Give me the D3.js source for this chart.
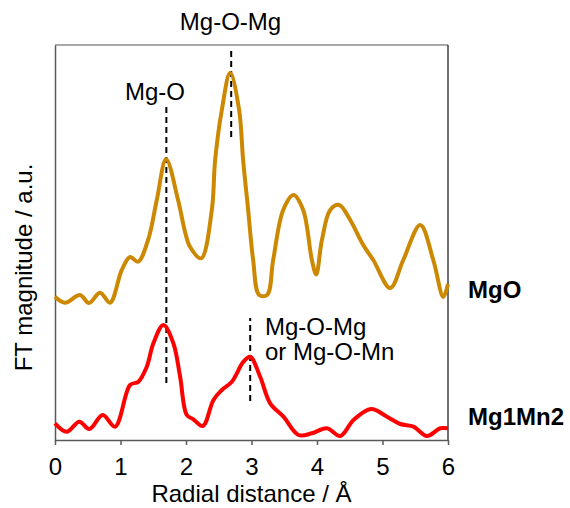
<!DOCTYPE html>
<meta charset="utf-8">
<html>
<style>
  body { margin: 0; background: #fff; }
  text { font-family: Arial, "Liberation Sans", sans-serif; }
  .line { fill: none; stroke-width: 4px; stroke-linejoin: round; }
  .axis path, .axis line { stroke: #595959; stroke-width: 1.5px; }
  .axis text { font-size: 24px; fill: #000; }
</style>
<body>
<svg width="570" height="508"></svg>
<script src="https://d3js.org/d3.v7.min.js"></script>
<script>
// radial distance (A) and FT magnitude (a.u.)
var mgoR = [0, 0.153, 0.382, 0.519, 0.688, 0.84, 1.019, 1.146, 1.268, 1.421, 1.554, 1.696, 1.879, 1.986, 2.063, 2.231,
  2.394, 2.445, 2.547, 2.674, 2.811, 2.872, 2.949, 3.025, 3.117, 3.239, 3.331, 3.484, 3.641, 3.789, 3.922, 3.988,
  4.075, 4.202, 4.339, 4.507, 4.706, 4.859, 5.118, 5.317, 5.577, 5.775, 5.928, 6.0];
var mgoY = [1.433, 1.373, 1.45, 1.37, 1.473, 1.373, 1.70, 1.83, 1.783, 2.0, 2.4, 2.807, 2.4, 2.08, 1.93, 1.817,
  2.3, 2.8, 3.3, 3.673, 3.3, 2.8, 2.3, 1.8, 1.45, 1.45, 1.8, 2.3, 2.45, 2.3, 1.8, 1.655,
  2.0, 2.3, 2.35, 2.2, 1.95, 1.8, 1.52, 1.8, 2.15, 1.8, 1.43, 1.56];

var mnR = [0, 0.179, 0.371, 0.524, 0.729, 0.917, 1.146, 1.273, 1.401, 1.502, 1.655, 1.807, 1.91, 2.012, 2.113, 2.257,
  2.419, 2.547, 2.7, 2.877, 2.979, 3.132, 3.285, 3.488, 3.717, 3.922, 4.151, 4.354, 4.558, 4.824, 5.068, 5.271,
  5.474, 5.679, 5.882, 6.0];
var mnY = [0.167, 0.083, 0.183, 0.11, 0.25, 0.133, 0.55, 0.583, 0.733, 0.967, 1.15, 0.967, 0.633, 0.25, 0.207, 0.14,
  0.4, 0.5, 0.583, 0.783, 0.833, 0.633, 0.367, 0.233, 0.05, 0.067, 0.117, 0.04, 0.2, 0.31, 0.233, 0.16,
  0.133, 0.04, 0.117, 0.117];

var xTicks = [0, 1, 2, 3, 4, 5, 6];
var seriesNames = ["MgO", "Mg1Mn2"];
var seriesColors = ["#cc8800", "#ff0000"];

// dashed markers: x position, y from, y to
var markR = [1.70, 2.69, 2.98];
var markFrom = [0.57, 3.03, 0.39];
var markTo = [3.33, 3.93, 1.22];

var svg = d3.select("svg"),
    margin = {top: 45, right: 122, bottom: 68, left: 55},
    width = +svg.attr("width") - margin.left - margin.right,
    height = +svg.attr("height") - margin.top - margin.bottom,
    g = svg.append("g").attr("transform", "translate(" + margin.left + "," + margin.top + ")");

var x = d3.scaleLinear().domain([0, 6]).range([0, width]);
var y = d3.scaleLinear().domain([0, 3.95]).range([height, 0]);

var line = d3.line()
    .x(function(d) { return x(d[0]); })
    .y(function(d) { return y(d[1]); })
    .curve(d3.curveCatmullRom.alpha(0.5));

// top and right frame
g.append("line").attr("x1", 0).attr("x2", width).attr("y1", 0).attr("y2", 0)
  .attr("stroke", "#8c8c8c").attr("stroke-width", 1.5);
g.append("line").attr("x1", width).attr("x2", width).attr("y1", 0).attr("y2", height)
  .attr("stroke", "#404040").attr("stroke-width", 1.5);

g.append("g")
  .attr("class", "axis axis--x")
  .attr("transform", "translate(0," + height + ")")
  .call(d3.axisBottom(x).tickValues(xTicks).tickFormat(d3.format("d"))
    .tickSize(5).tickSizeOuter(0).tickPadding(13));

g.append("g")
  .attr("class", "axis axis--y")
  .call(d3.axisLeft(y).tickValues([]).tickSizeOuter(0));

// dashed guide lines
markR.forEach(function(r, i) {
  g.append("line")
    .attr("x1", x(r)).attr("x2", x(r))
    .attr("y1", y(markFrom[i])).attr("y2", y(markTo[i]))
    .attr("stroke", "#000").attr("stroke-width", 2)
    .attr("stroke-dasharray", "6,4");
});

var series = [d3.zip(mgoR, mgoY), d3.zip(mnR, mnY)];
series.forEach(function(s, i) {
  g.append("path")
    .datum(s)
    .attr("class", "line")
    .attr("stroke", seriesColors[i])
    .attr("d", line);
});

// labels
var lab = g.append("g").style("font-size", "24px").attr("fill", "#000");
lab.append("text").attr("x", x(2.68)).attr("y", -15).attr("text-anchor", "middle").text("Mg-O-Mg");
lab.append("text").attr("x", 70).attr("y", 55).text("Mg-O");
lab.append("text").attr("x", 210).attr("y", 290).text("Mg-O-Mg");
lab.append("text").attr("x", 210).attr("y", 315).text("or Mg-O-Mn");

lab.append("text").attr("x", width + 20).attr("y", 253).style("font-weight", "bold").text(seriesNames[0]);
lab.append("text").attr("x", width + 20).attr("y", 380).style("font-weight", "bold").text(seriesNames[1]);

// axis titles
svg.append("text")
  .attr("x", margin.left + width / 2).attr("y", 502)
  .attr("text-anchor", "middle").style("font-size", "24px")
  .text("Radial distance / Å");
svg.append("text")
  .attr("transform", "translate(32," + (margin.top + height / 2 + 25) + ") rotate(-90)")
  .attr("text-anchor", "middle").style("font-size", "24px")
  .text("FT magnitude / a.u.");
</script>
</body>
</html>
